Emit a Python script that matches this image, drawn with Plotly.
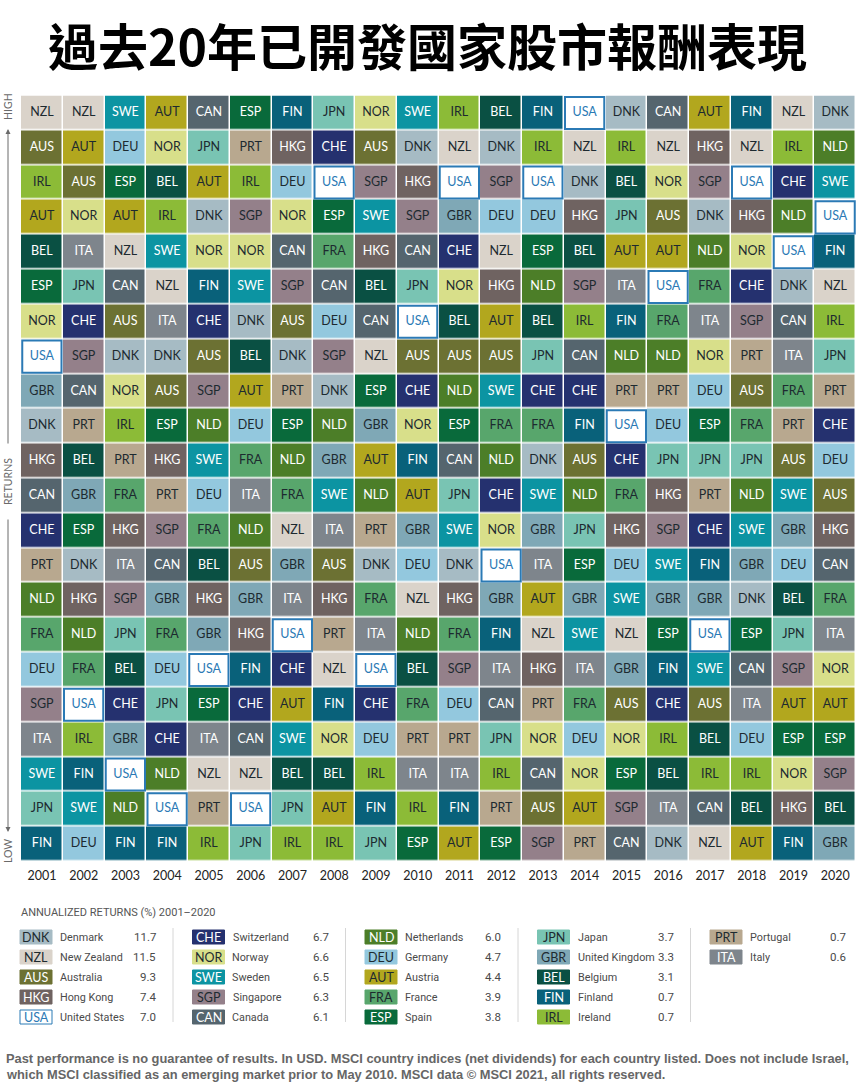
import plotly.graph_objects as go

W, H = 856, 1090

years = list(range(2001, 2021))

# each row is one rank position, best return on top
rank_rows = [
    "NZL NZL SWE AUT CAN ESP FIN JPN NOR SWE IRL BEL FIN USA DNK CAN AUT FIN NZL DNK",
    "AUS AUT DEU NOR JPN PRT HKG CHE AUS DNK NZL DNK IRL NZL IRL NZL HKG NZL IRL NLD",
    "IRL AUS ESP BEL AUT IRL DEU USA SGP HKG USA SGP USA DNK BEL NOR SGP USA CHE SWE",
    "AUT NOR AUT IRL DNK SGP NOR ESP SWE SGP GBR DEU DEU HKG JPN AUS DNK HKG NLD USA",
    "BEL ITA NZL SWE NOR NOR CAN FRA HKG CAN CHE NZL ESP BEL AUT AUT NLD NOR USA FIN",
    "ESP JPN CAN NZL FIN SWE SGP CAN BEL JPN NOR HKG NLD SGP ITA USA FRA CHE DNK NZL",
    "NOR CHE AUS ITA CHE DNK AUS DEU CAN USA BEL AUT BEL IRL FIN FRA ITA SGP CAN IRL",
    "USA SGP DNK DNK AUS BEL DNK SGP NZL AUS AUS AUS JPN CAN NLD NLD NOR PRT ITA JPN",
    "GBR CAN NOR AUS SGP AUT PRT DNK ESP CHE NLD SWE CHE CHE PRT PRT DEU AUS FRA PRT",
    "DNK PRT IRL ESP NLD DEU ESP NLD GBR NOR ESP FRA FRA FIN USA DEU ESP FRA PRT CHE",
    "HKG BEL PRT HKG SWE FRA NLD GBR AUT FIN CAN NLD DNK AUS CHE JPN JPN JPN AUS DEU",
    "CAN GBR FRA PRT DEU ITA FRA SWE NLD AUT JPN CHE SWE NLD FRA HKG PRT NLD SWE AUS",
    "CHE ESP HKG SGP FRA NLD NZL ITA PRT GBR SWE NOR GBR JPN HKG SGP CHE SWE GBR HKG",
    "PRT DNK ITA CAN BEL AUS GBR AUS DNK DEU DNK USA ITA ESP DEU SWE FIN GBR DEU CAN",
    "NLD HKG SGP GBR HKG GBR ITA HKG FRA NZL HKG GBR AUT GBR SWE GBR GBR DNK BEL FRA",
    "FRA NLD JPN FRA GBR HKG USA PRT ITA NLD FRA FIN NZL SWE NZL ESP USA ESP JPN ITA",
    "DEU FRA BEL DEU USA FIN CHE NZL USA BEL SGP ITA HKG ITA GBR FIN SWE CAN SGP NOR",
    "SGP USA CHE JPN ESP CHE AUT FIN CHE FRA DEU CAN PRT FRA AUS CHE AUS ITA AUT AUT",
    "ITA IRL GBR CHE ITA CAN SWE NOR DEU PRT PRT JPN NOR DEU NOR IRL BEL DEU ESP ESP",
    "SWE FIN USA NLD NZL NZL BEL BEL IRL ITA ITA IRL CAN NOR ESP BEL IRL IRL NOR SGP",
    "JPN SWE NLD USA PRT USA JPN AUT FIN IRL FIN PRT AUS AUT SGP ITA CAN BEL HKG BEL",
    "FIN DEU FIN FIN IRL JPN IRL IRL JPN ESP AUT ESP SGP PRT CAN DNK NZL AUT FIN GBR",
]

# legend, in the order of the table
codes = ["DNK", "NZL", "AUS", "HKG", "USA", "CHE", "NOR", "SWE", "SGP", "CAN", "NLD",
         "DEU", "AUT", "FRA", "ESP", "JPN", "GBR", "BEL", "FIN", "IRL", "PRT", "ITA"]
names = ["Denmark", "New Zealand", "Australia", "Hong Kong", "United States",
         "Switzerland", "Norway", "Sweden", "Singapore", "Canada",
         "Netherlands", "Germany", "Austria", "France", "Spain",
         "Japan", "United Kingdom", "Belgium", "Finland", "Ireland",
         "Portugal", "Italy"]
returns = [11.7, 11.5, 9.3, 7.4, 7.0, 6.7, 6.6, 6.5, 6.3, 6.1, 6.0,
           4.7, 4.4, 3.9, 3.8, 3.7, 3.3, 3.1, 0.7, 0.7, 0.7, 0.6]

colors = {
    "DNK": "#A6BBC4", "NZL": "#DAD3CA", "AUS": "#6C7133", "HKG": "#6F6361", "USA": "#FFFFFF",
    "CHE": "#25316F", "NOR": "#D8DF8A", "SWE": "#0C94A2", "SGP": "#94808A", "CAN": "#55656E",
    "NLD": "#4C7E28", "DEU": "#93C8DE", "AUT": "#B2A71E", "FRA": "#58A66C", "ESP": "#096A3B",
    "JPN": "#79C4B3", "GBR": "#7FA8B6", "BEL": "#0A5043", "FIN": "#09617A", "IRL": "#8CBB37",
    "PRT": "#B8A88F", "ITA": "#7E858C",
}
white_text = {"AUS", "HKG", "CHE", "SWE", "CAN", "NLD", "ESP", "BEL", "FIN", "ITA"}
DARK = "#1D2A30"
USA_BLUE = "#2B7AB5"

rows = [r.split() for r in rank_rows]


def px(x):
    return x / W


def py(y):
    return 1 - y / H


def text_color(code):
    if code == "USA":
        return USA_BLUE
    return "#FFFFFF" if code in white_text else DARK


ranks = list(range(1, len(rows) + 1))
z = [[codes.index(c) for c in r] for r in rows]
scale = [[i / (len(codes) - 1), colors[c]] for i, c in enumerate(codes)]

fig = go.Figure()
fig.add_trace(go.Heatmap(x=years, y=ranks, z=z, zmin=0, zmax=len(codes) - 1,
                         colorscale=scale, showscale=False, xgap=1.5, ygap=1.5,
                         hoverinfo="skip"))

# cell labels, colour per point
fig.add_trace(go.Scatter(
    x=[y for r in rows for y in years],
    y=[rk for rk in ranks for y in years],
    text=[c for r in rows for c in r],
    mode="text",
    textposition="middle center",
    textfont=dict(family="Lato", size=12.5, color=[text_color(c) for r in rows for c in r]),
    hoverinfo="skip",
))

# the US cells are outlined
for rk, r in zip(ranks, rows):
    for yr, c in zip(years, r):
        if c == "USA":
            fig.add_shape(type="rect", xref="x", yref="y", x0=yr - 0.47, x1=yr + 0.47,
                          y0=rk - 0.46, y1=rk + 0.46,
                          line=dict(color=USA_BLUE, width=2), fillcolor="rgba(0,0,0,0)")


def note(x, y, text, size=12, color=DARK, family="Lato", xanchor="left", **kw):
    fig.add_annotation(x=px(x), y=py(y), xref="paper", yref="paper", text=text,
                       showarrow=False, xanchor=xanchor, yanchor="middle",
                       font=dict(family=family, size=size, color=color), **kw)


note(427, 44, "<b>過去20年已開發國家股市報酬表現</b>", size=50, color="#000000",
     family="Noto Sans CJK TC", xanchor="center")

# side labels and arrows
GREY = "#6A6A6A"
note(8, 106, "HIGH", size=10.5, color=GREY, xanchor="center", textangle=-90)
note(8, 482, "RETURNS", size=10.5, color=GREY, xanchor="center", textangle=-90)
note(8, 851, "LOW", size=10.5, color=GREY, xanchor="center", textangle=-90)
for y_from, y_to in [(445, 129), (518, 832)]:
    fig.add_annotation(x=px(8), y=py(y_to), ax=0, ay=y_from - y_to, xref="paper", yref="paper",
                       text="", showarrow=True, arrowhead=2,
                       arrowsize=1, arrowwidth=1, arrowcolor=GREY)

# table of annualized returns
LEGEND_FONT = "Roboto"
LEGEND_TEXT = "#4A4A4A"
note(19, 912, "ANNUALIZED RETURNS (%) 2001–2020", size=11, color="#555555",
     family=LEGEND_FONT)

per_col = 5
col_x = [20, 192.5, 365, 537.5, 710]
row_y = [937, 957, 977, 997, 1017]
for i, (code, name, val) in enumerate(zip(codes, names, returns)):
    x0 = col_x[i // per_col]
    y0 = row_y[i % per_col]
    border = USA_BLUE if code == "USA" else colors[code]
    fig.add_shape(type="rect", xref="paper", yref="paper", x0=px(x0), x1=px(x0 + 32),
                  y0=py(y0 - 7), y1=py(y0 + 7), fillcolor=colors[code],
                  line=dict(color=border, width=1))
    note(x0 + 16, y0, code, size=12.5, color=text_color(code), xanchor="center")
    note(x0 + 38, y0, name, size=10.8, color=LEGEND_TEXT, family=LEGEND_FONT)
    note(x0 + 138, y0, f"{val:.1f}", size=11.5, color=LEGEND_TEXT,
         family=LEGEND_FONT, xanchor="right")

for x0 in col_x[:-1]:
    fig.add_shape(type="line", xref="paper", yref="paper", x0=px(x0 + 153), x1=px(x0 + 153),
                  y0=py(928), y1=py(1022), line=dict(color="#D6D6D6", width=1))

foot = "#666666"
note(4, 1058, "<b>Past performance is no guarantee of results. In USD. MSCI country indices (net dividends) for each country listed. Does not include Israel,</b>",
     size=12.85, color=foot, family="Liberation Sans")
note(4, 1074, "<b>which MSCI classified as an emerging market prior to May 2010. MSCI data © MSCI 2021, all rights reserved.</b>",
     size=12.85, color=foot, family="Liberation Sans")

fig.update_xaxes(domain=[px(21), 1], range=[2000.5, 2020.5], tickvals=years, ticks="outside",
                 ticklen=2, tickcolor="#FFFFFF", showgrid=False, zeroline=False, showline=False,
                 tickfont=dict(family="Lato", size=12.5, color="#222222"))
fig.update_yaxes(domain=[py(861.5), py(95.5)], range=[22.5, 0.5], showticklabels=False, ticks="",
                 showgrid=False, zeroline=False, showline=False)
fig.update_layout(width=W, height=H, margin=dict(l=0, r=0, t=0, b=0), showlegend=False,
                  paper_bgcolor="#FFFFFF", plot_bgcolor="#FFFFFF")

# the page's default body margin would push the chart off the window
fig.write_html("out.html", config=dict(displayModeBar=False),
               post_script="document.body.style.margin = '0';")
